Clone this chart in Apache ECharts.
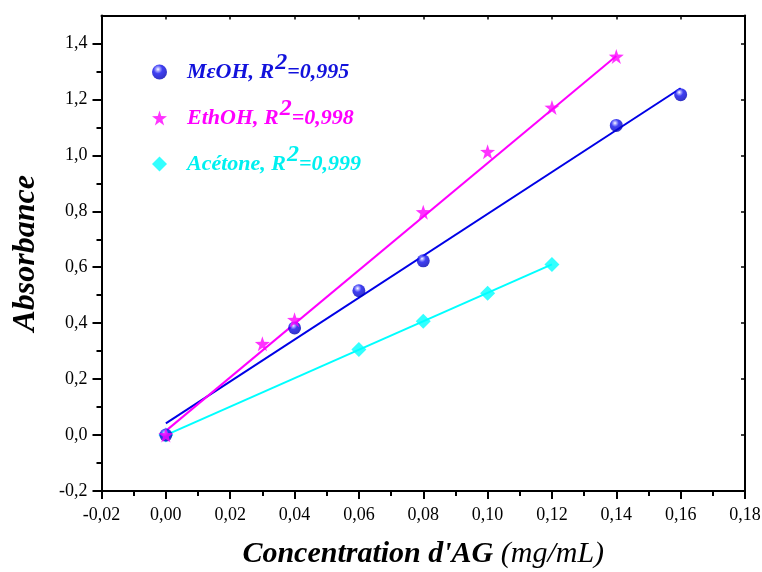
<!DOCTYPE html>
<html><head><meta charset="utf-8">
<script src="https://cdn.jsdelivr.net/npm/echarts@6/dist/echarts.min.js"></script>
<style>html,body{margin:0;padding:0;background:#fff}#c{width:762px;height:572px}</style>
</head><body><div id="c"></div>
<script>
// Data
const meohX = [0, 0.04, 0.06, 0.08, 0.14, 0.16];
const meohY = [0, 0.383, 0.516, 0.623, 1.107, 1.217];
const ethX = [0, 0.03, 0.04, 0.08, 0.10, 0.12, 0.14];
const ethY = [0, 0.326, 0.412, 0.797, 1.013, 1.171, 1.353];
const aceX = [0, 0.06, 0.08, 0.10, 0.12];
const aceY = [0, 0.306, 0.407, 0.507, 0.610];
// fitted line end points
const meohFit = [[0, 0.042], [0.16, 1.24]];
const ethFit = [[0, 0.015], [0.14, 1.355]];
const aceFit = [[0, 0.0], [0.12, 0.61]];
// tick values
const yMajor = [-0.2, 0, 0.2, 0.4, 0.6, 0.8, 1.0, 1.2, 1.4];
const yMinor = [-0.1, 0.1, 0.3, 0.5, 0.7, 0.9, 1.1, 1.3];
const names = ['MeOH', 'EthOH', 'Acetone'];
const r2 = ['0,995', '0,998', '0,999'];
const labels = ['MεOH,', 'EthOH,', 'Acétone,'];
const colors = ['#0000e6', '#ff00ff', '#00ffff'];
const textColors = ['#1212dc', '#ff00ff', '#00f0f0'];

const FONT = '"Liberation Serif", "Times New Roman", serif';
const pairs = (xs, ys) => xs.map((x, i) => [x, ys[i]]);
const fmt = (d) => (v) => v.toFixed(d).replace('.', ',');

const chart = echarts.init(document.getElementById('c'), null, {renderer: 'canvas'});

const rich = {};
['a', 'b', 'c'].forEach((k, i) => {
  rich[k] = {color: textColors[i], fontFamily: FONT, fontStyle: 'italic', fontWeight: 'bold', fontSize: 22};
  rich[k + 's'] = {color: textColors[i], fontFamily: FONT, fontStyle: 'italic', fontWeight: 'bold', fontSize: 24, padding: [0, 0, 18, 1]};
});
rich.sp = {width: 15};
const keys = ['a', 'b', 'c'];

const legendTops = [46, 92, 138];
const legends = names.map((n, i) => ({
  data: [n],
  left: 147, top: legendTops[i],
  itemWidth: 15, itemHeight: 15,
  formatter: () => `{sp|}{${keys[i]}|${labels[i]} R}{${keys[i]}s|2}{${keys[i]}|=${r2[i]}}`,
  textStyle: {rich: rich}
}));

const sphere = {
  type: 'radial', x: 0.4, y: 0.32, r: 0.7,
  colorStops: [{offset: 0, color: '#ffffff'}, {offset: 0.18, color: '#9090ff'}, {offset: 0.42, color: '#1010f0'}, {offset: 1, color: '#0000b4'}]
};

const tickLabel = {fontFamily: FONT, fontSize: 18, color: '#000'};
const blackLine = {show: true, onZero: false, lineStyle: {color: '#000', width: 2}};

const option = {
  animation: false,
  backgroundColor: '#fff',
  legend: legends,
  grid: {left: 101.5, right: 17, top: 15.5, bottom: 81, show: false, containLabel: false, outerBoundsMode: 'none'},
  xAxis: [{
    type: 'value', min: -0.02, max: 0.18, interval: 0.02,
    axisLine: blackLine,
    axisTick: {show: true, inside: false, length: 8, lineStyle: {color: '#000', width: 2}},
    minorTick: {show: true, splitNumber: 2, length: 5, lineStyle: {color: '#000', width: 2}},
    splitLine: {show: false},
    axisLabel: Object.assign({formatter: fmt(2), margin: 15}, tickLabel),
    name: "{b|Concentration d'AG}{i| (mg/mL)}",
    nameLocation: 'middle', nameGap: 48,
    nameTextStyle: {rich: {
      b: {fontFamily: FONT, fontSize: 30, fontWeight: 'bold', fontStyle: 'italic', color: '#000'},
      i: {fontFamily: FONT, fontSize: 30, fontStyle: 'italic', color: '#000'}
    }}
  }, {
    type: 'value', position: 'top', min: -0.02, max: 0.18, interval: 0.02,
    axisLine: blackLine,
    axisTick: {show: true, inside: true, length: 4, lineStyle: {color: '#000', width: 1.5}},
    minorTick: {show: false},
    splitLine: {show: false}, axisLabel: {show: false}
  }],
  yAxis: [{
    type: 'value', min: -0.2, max: 1.5,
    axisLine: blackLine,
    axisTick: {show: true, inside: false, length: 9, customValues: yMajor, lineStyle: {color: '#000', width: 2}},
    minorTick: {show: false},
    splitLine: {show: false},
    axisLabel: Object.assign({formatter: fmt(1), margin: 14, customValues: yMajor}, tickLabel),
    name: 'Absorbance', nameLocation: 'middle', nameGap: 60,
    nameTextStyle: {fontFamily: FONT, fontSize: 32, fontWeight: 'bold', fontStyle: 'italic', color: '#000'}
  }, {
    type: 'value', position: 'left', min: -0.2, max: 1.5,
    axisLine: {show: false, onZero: false},
    axisTick: {show: true, inside: false, length: 5, customValues: yMinor, lineStyle: {color: '#000', width: 2}},
    splitLine: {show: false}, axisLabel: {show: false}
  }, {
    type: 'value', position: 'right', min: -0.2, max: 1.5,
    axisLine: blackLine,
    axisTick: {show: true, inside: true, length: 4, customValues: yMajor, lineStyle: {color: '#000', width: 1.5}},
    splitLine: {show: false}, axisLabel: {show: false}
  }],
  series: [
    {name: 'MeOH-fit', type: 'line', data: meohFit, symbol: 'none', lineStyle: {color: colors[0], width: 2}, z: 2, silent: true},
    {name: 'EthOH-fit', type: 'line', data: ethFit, symbol: 'none', lineStyle: {color: colors[1], width: 2}, z: 2, silent: true},
    {name: 'Acetone-fit', type: 'line', data: aceFit, symbol: 'none', lineStyle: {color: colors[2], width: 2}, z: 2, silent: true},
    {name: 'Acetone', type: 'scatter', data: pairs(aceX, aceY), symbol: 'diamond', symbolSize: 15, itemStyle: {color: '#00ffff'}, z: 3},
    {name: 'MeOH', type: 'scatter', data: pairs(meohX, meohY), symbol: 'circle', symbolSize: 13, itemStyle: {color: sphere}, z: 4},
    {name: 'EthOH', type: 'scatter', data: pairs(ethX, ethY),
      symbol: 'path://M50,0 L61.8,36.2 L100,38.2 L69.1,61.8 L80.9,100 L50,76.4 L19.1,100 L30.9,61.8 L0,38.2 L38.2,36.2 Z',
      symbolSize: 15, itemStyle: {color: '#ff00ff'}, z: 5}
  ]
};
chart.setOption(option);
</script>
</body></html>
